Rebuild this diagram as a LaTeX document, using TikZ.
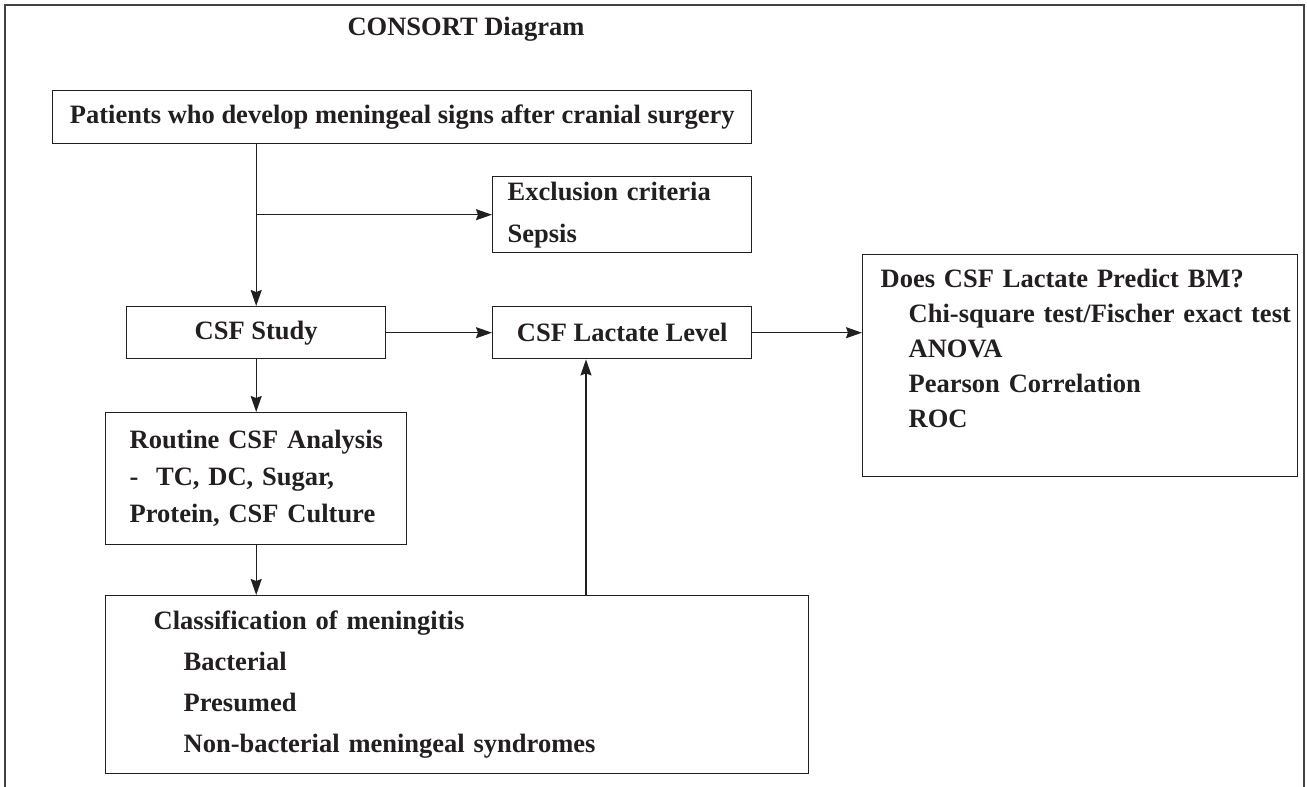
\documentclass[tikz,border=0pt]{standalone}
\usepackage{fontspec}
\setmainfont{Liberation Serif}
\usepackage{xcolor}
\usetikzlibrary{positioning,arrows.meta,calc}
\definecolor{ink}{HTML}{231F20}

\begin{document}
\begin{tikzpicture}[
  x=1pt, y=-1pt,
  every node/.style = {font=\fontsize{26.5}{35}\selectfont\bfseries, text=ink},
  box/.style   = {draw=ink, line width=1.4pt, inner xsep=2pt, inner ysep=0pt,
                  anchor=north west},
  plain/.style = {box, align=center},
  list/.style  = {box, align=left},
  ar/.style    = {-{Stealth[length=16pt,width=11pt,inset=2pt]}, line width=1.4pt, draw=ink}
]
\useasboundingbox (0,0) rectangle (1307,787);
\draw[ink!85, line width=2.4pt] (5,787) -- (5,5) -- (1304,5) -- (1304,787);

\node (title) at (466,29) {CONSORT Diagram};

\node[plain, minimum width=699pt, minimum height=53pt] (pat) at (52,90)
  {Patients who develop meningeal signs after cranial surgery};

\node[list, text width=255pt, minimum height=76pt,
      font=\fontsize{26.5}{42}\selectfont\bfseries] (excl) at (492,176)
  {\hspace*{13pt}Exclusion criteria\\ \hspace*{13pt}Sepsis};

\node[plain, minimum width=259pt, minimum height=52pt] (study) at (126,306) {CSF Study};
\node[plain, minimum width=259pt, minimum height=52pt] (lact)  at (492,306) {CSF Lactate Level};

\node[list, text width=431pt, minimum height=222pt] (does) at (862,254)
  {\hspace*{16pt}Does CSF Lactate Predict BM?\\
   \hspace*{44pt}Chi-square test/Fischer exact test\\
   \hspace*{44pt}ANOVA\\
   \hspace*{44pt}Pearson Correlation\\
   \hspace*{44pt}ROC\\ \mbox{}};

\node[list, text width=297pt, minimum height=132pt,
      font=\fontsize{26.5}{37}\selectfont\bfseries] (routine) at (105,412)
  {\hspace*{22pt}Routine CSF Analysis\\
   \hspace*{22pt}-\ \ TC, DC, Sugar,\\
   \hspace*{22pt}Protein, CSF Culture};

\node[list, text width=699pt, minimum height=178pt,
      font=\fontsize{26.5}{41}\selectfont\bfseries] (class) at (105,595)
  {\hspace*{46pt}Classification of meningitis\\
   \hspace*{76pt}Bacterial\\
   \hspace*{76pt}Presumed\\
   \hspace*{76pt}Non-bacterial meningeal syndromes};

% connectors
\coordinate (fork) at (study.north |- excl.west);
\coordinate (up)   at (586,595);

\draw[ar] (pat.south -| study.north) -- (study.north);
\draw[ar] (fork) -- (excl.west);
\draw[ar] (study) -- (lact);
\draw[ar] (lact.east) -- (lact.east -| does.west);
\draw[ar] (study) -- (routine);
\draw[ar] (routine.south) -- (routine.south |- class.north);
\draw[ar] (up) -- (up |- lact.south);

\end{tikzpicture}
\end{document}
